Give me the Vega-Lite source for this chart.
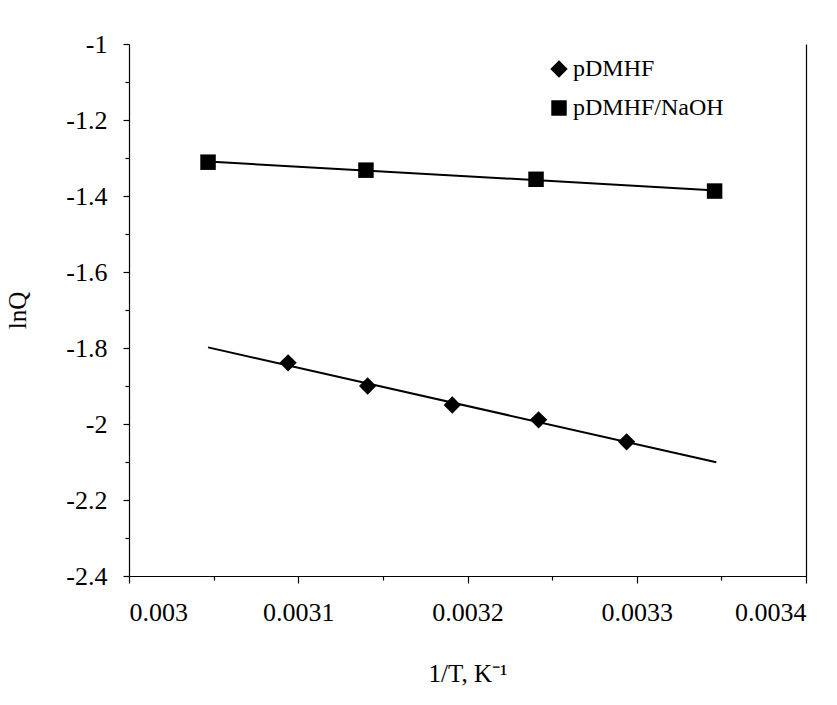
{
  "$schema": "https://vega.github.io/schema/vega-lite/v6.json",
  "width": 677,
  "height": 532,
  "autosize": "none",
  "padding": {"left": 129, "top": 44, "right": 31, "bottom": 129},
  "background": "white",
  "data": {
    "values": [
      {"series": "pDMHF", "x": 0.003094, "y": -1.839},
      {"series": "pDMHF", "x": 0.003141, "y": -1.900},
      {"series": "pDMHF", "x": 0.003191, "y": -1.950},
      {"series": "pDMHF", "x": 0.003242, "y": -1.989},
      {"series": "pDMHF", "x": 0.003294, "y": -2.047},
      {"series": "pDMHF/NaOH", "x": 0.0030467, "y": -1.311},
      {"series": "pDMHF/NaOH", "x": 0.003140, "y": -1.332},
      {"series": "pDMHF/NaOH", "x": 0.0032405, "y": -1.356},
      {"series": "pDMHF/NaOH", "x": 0.003346, "y": -1.387}
    ]
  },
  "resolve": {"axis": {"x": "independent", "y": "independent"}},
  "layer": [
    {
      "transform": [{"filter": "datum.series === 'pDMHF'"}, {"regression": "y", "on": "x", "extent": [0.0030467, 0.003347]}],
      "mark": {"type": "line", "color": "black", "strokeWidth": 2},
      "encoding": {
        "x": {"field": "x", "type": "quantitative", "scale": {"domain": [0.003, 0.0034], "nice": false, "zero": false},
          "axis": {"orient": "bottom", "values": [0.00305, 0.00315, 0.00325, 0.00335], "labels": false, "domain": false, "tickSize": 4, "title": null}},
        "y": {"field": "y", "type": "quantitative", "scale": {"domain": [-2.4, -1], "nice": false, "zero": false},
          "axis": {"orient": "left", "values": [-1.1, -1.3, -1.5, -1.7, -1.9, -2.1, -2.3], "labels": false, "domain": false, "tickSize": 4, "title": null}}
      }
    },
    {
      "transform": [{"filter": "datum.series === 'pDMHF/NaOH'"}, {"regression": "y", "on": "x", "extent": [0.0030467, 0.003347]}],
      "mark": {"type": "line", "color": "black", "strokeWidth": 2},
      "encoding": {
        "x": {"field": "x", "type": "quantitative", "axis": null},
        "y": {"field": "y", "type": "quantitative",
          "axis": {"orient": "right", "labels": false, "ticks": false, "domain": true, "title": null}}
      }
    },
    {
      "mark": {"type": "point", "filled": true, "color": "black", "opacity": 1},
      "encoding": {
        "x": {"field": "x", "type": "quantitative",
          "axis": {"orient": "bottom", "values": [0.003, 0.0031, 0.0032, 0.0033, 0.0034], "tickSize": 7, "labelPadding": 16,
            "labelExpr": "'' + datum.value", "labelFontSize": 26, "title": "1/T, K⁻¹", "titleFontSize": 25, "titlePadding": 36}},
        "y": {"field": "y", "type": "quantitative",
          "axis": {"orient": "left", "values": [-1, -1.2, -1.4, -1.6, -1.8, -2, -2.2, -2.4], "tickSize": 6, "labelPadding": 16,
            "labelExpr": "'' + datum.value", "labelFontSize": 26, "title": "lnQ", "titleFontSize": 25, "titlePadding": 35}},
        "shape": {"field": "series", "type": "nominal",
          "scale": {"domain": ["pDMHF", "pDMHF/NaOH"], "range": ["diamond", "square"]},
          "legend": {"title": null, "orient": "none", "legendX": 418, "legendY": 13,
            "symbolFillColor": "black", "symbolStrokeColor": "black", "labelFontSize": 24, "labelOffset": 2, "rowPadding": 15, "padding": 0}},
        "size": {"field": "series", "type": "nominal", "scale": {"domain": ["pDMHF", "pDMHF/NaOH"], "range": [300, 240]},
          "legend": {"title": null, "orient": "none", "legendX": 418, "legendY": 13,
            "symbolFillColor": "black", "symbolStrokeColor": "black", "labelFontSize": 24, "labelOffset": 2, "rowPadding": 15, "padding": 0}}
      }
    }
  ],
  "config": {
    "view": {"stroke": null},
    "axis": {"grid": false, "domainColor": "black", "tickColor": "black", "labelColor": "black", "titleColor": "black",
      "labelFont": "Liberation Serif", "titleFont": "Liberation Serif", "titleFontWeight": "normal", "domainWidth": 1.2, "tickWidth": 1.2},
    "legend": {"labelFont": "Liberation Serif", "labelColor": "black"}
  }
}
